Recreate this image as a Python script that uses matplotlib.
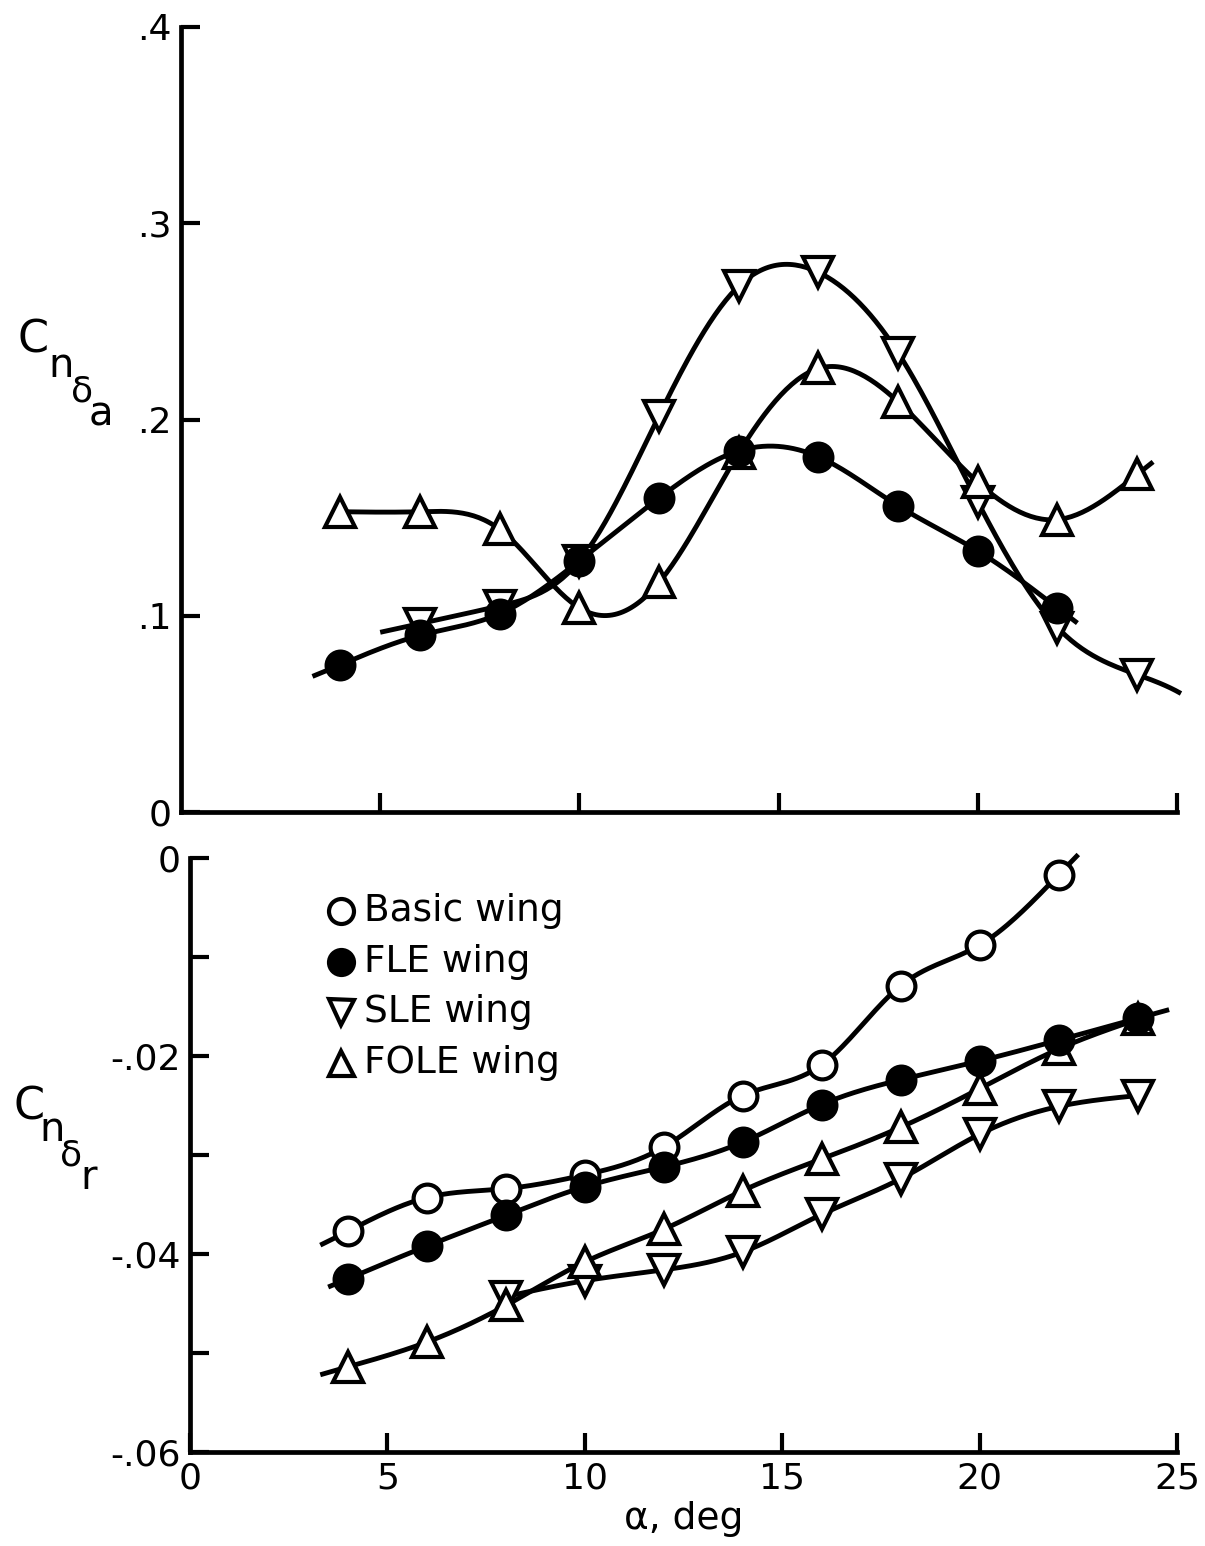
import numpy as np
import matplotlib
matplotlib.use("Agg")
import matplotlib.pyplot as plt

plt.rcParams["font.family"] = ["DejaVu Sans"]

# angle of attack, deg
alpha_fle_a = [4, 6, 8, 10, 12, 14, 16, 18, 20, 22]
alpha_sle_a = [6, 8, 10, 12, 14, 16, 18, 20, 22, 24]
alpha_fole_a = [4, 6, 8, 10, 12, 14, 16, 18, 20, 22, 24]

# aileron yaw effectiveness, Cn_delta_a
fle_a = [0.075, 0.090, 0.101, 0.128, 0.160, 0.184, 0.181, 0.156, 0.133, 0.104]
sle_a = [0.096, 0.105, 0.128, 0.202, 0.268, 0.275, 0.234, 0.158, 0.094, 0.070]
fole_a = [0.153, 0.153, 0.144, 0.104, 0.117, 0.183, 0.226, 0.209, 0.168, 0.149, 0.172]

alpha_basic_r = [4, 6, 8, 10, 12, 14, 16, 18, 20, 22]
alpha_fle_r = [4, 6, 8, 10, 12, 14, 16, 18, 20, 22, 24]
alpha_sle_r = [8, 10, 12, 14, 16, 18, 20, 22, 24]
alpha_fole_r = [4, 6, 8, 10, 12, 14, 16, 18, 20, 22, 24]

# rudder yaw effectiveness, Cn_delta_r
basic_r = [-0.0377, -0.0343, -0.0334, -0.0320, -0.0292, -0.0240, -0.0209, -0.0129, -0.0088, -0.0017]
fle_r = [-0.0425, -0.0392, -0.0361, -0.0332, -0.0312, -0.0287, -0.0249, -0.0224, -0.0205, -0.0184, -0.0162]
sle_r = [-0.0443, -0.0427, -0.0416, -0.0398, -0.0360, -0.0324, -0.0279, -0.0251, -0.0240]
fole_r = [-0.0514, -0.0489, -0.0452, -0.0408, -0.0375, -0.0336, -0.0304, -0.0272, -0.0233, -0.0193, -0.0163]

# extent of each faired curve, deg
span_fle_a = (3.3, 22.5)
span_sle_a = (5.0, 25.1)
span_fole_a = (4.0, 24.4)
span_basic_r = (3.3, 22.5)
span_fle_r = (3.5, 24.8)
span_sle_r = (7.8, 24.0)
span_fole_r = (3.3, 24.4)

LW = 3.5
MEW = 3.0
FS = 26


def faired(x, y, lo, hi, num=300):
    """Natural cubic spline through the points, evaluated from lo to hi."""
    x, y = np.asarray(x, float), np.asarray(y, float)
    n = len(x)
    h = np.diff(x)
    A = np.zeros((n, n))
    b = np.zeros(n)
    A[0, 0] = A[-1, -1] = 1.0
    for i in range(1, n - 1):
        A[i, i - 1], A[i, i], A[i, i + 1] = h[i - 1], 2 * (h[i - 1] + h[i]), h[i]
        b[i] = 3 * ((y[i + 1] - y[i]) / h[i] - (y[i] - y[i - 1]) / h[i - 1])
    c = np.linalg.solve(A, b)
    bc = (y[1:] - y[:-1]) / h - h * (2 * c[:-1] + c[1:]) / 3
    d = (c[1:] - c[:-1]) / (3 * h)
    xs = np.linspace(lo, hi, num)
    k = np.clip(np.searchsorted(x, xs) - 1, 0, n - 2)
    dx = xs - x[k]
    return xs, y[k] + bc[k] * dx + c[k] * dx ** 2 + d[k] * dx ** 3


def series(ax, x, y, span, marker, filled, ms):
    xs, ys = faired(x, y, *span)
    ax.plot(xs, ys, "k-", lw=LW, zorder=2, solid_capstyle="butt", clip_on=False)
    ax.plot(x, y, ls="none", marker=marker, ms=ms, mec="k", mew=MEW,
            mfc="k" if filled else "w", zorder=4 if filled else 3, clip_on=False)


def style(ax):
    for s in ("top", "right"):
        ax.spines[s].set_visible(False)
    for s in ("left", "bottom"):
        ax.spines[s].set_linewidth(3.4)
    ax.tick_params(direction="in", length=14, width=3, labelsize=FS, pad=7)
    ax.tick_params(axis="y", which="minor", direction="in", length=14, width=3)
    ax.set_xlim(0, 25)


fig = plt.figure(figsize=(12.05, 15.46), dpi=100)

# upper panel: aileron
ax1 = fig.add_axes([181 / 1205, 1 - 812 / 1546, 996 / 1205, 785 / 1546])
style(ax1)
ax1.set_ylim(0, 0.4)
ax1.set_xticks([5, 10, 15, 20, 25])
ax1.set_xticklabels([])
ax1.set_yticks([0, 0.1, 0.2, 0.3, 0.4])
ax1.set_yticklabels(["0", ".1", ".2", ".3", ".4"])
series(ax1, alpha_sle_a, sle_a, span_sle_a, "v", False, 22)
series(ax1, alpha_fole_a, fole_a, span_fole_a, "^", False, 22)
series(ax1, alpha_fle_a, fle_a, span_fle_a, "o", True, 20)

# lower panel: rudder
ax2 = fig.add_axes([190 / 1205, 1 - 1452 / 1546, 987 / 1205, 594 / 1546])
style(ax2)
ax2.set_ylim(-0.06, 0)
ax2.set_xticks([0, 5, 10, 15, 20, 25])
ax2.set_xticklabels(["0", "5", "10", "15", "20", "25"])
ax2.set_yticks([-0.06, -0.04, -0.02, 0])
ax2.set_yticklabels(["-.06", "-.04", "-.02", "0"])
ax2.set_yticks([-0.05, -0.03, -0.01], minor=True)
series(ax2, alpha_basic_r, basic_r, span_basic_r, "o", False, 20)
series(ax2, alpha_sle_r, sle_r, span_sle_r, "v", False, 22)
series(ax2, alpha_fole_r, fole_r, span_fole_r, "^", False, 22)
series(ax2, alpha_fle_r, fle_r, span_fle_r, "o", True, 20)
ax2.set_xlabel("α, deg", fontsize=27, labelpad=4)

# key
key = [("o", False, "Basic wing"), ("o", True, "FLE wing"),
       ("v", False, "SLE wing"), ("^", False, "FOLE wing")]
for i, (m, filled, name) in enumerate(key):
    y = 0.911 - i * 0.0855
    ax2.plot([0.153], [y], transform=ax2.transAxes, marker=m, ms=18, mew=MEW,
             mec="k", mfc="k" if filled else "w", clip_on=False)
    ax2.text(0.176, y, name, transform=ax2.transAxes, fontsize=27,
             ha="left", va="center")

# staggered coefficient symbols
for ch, px, py, fs in [("C", 33, 340, 32), ("n", 61, 366, 29),
                       ("δ", 82, 391, 26), ("a", 101, 414, 29),
                       ("C", 29, 1107, 32), ("n", 52, 1130, 29),
                       ("δ", 71, 1155, 26), ("r", 89, 1178, 29)]:
    fig.text(px / 1205, 1 - py / 1546, ch, fontsize=fs, ha="center", va="center")

fig.savefig("out.png", dpi=100)
